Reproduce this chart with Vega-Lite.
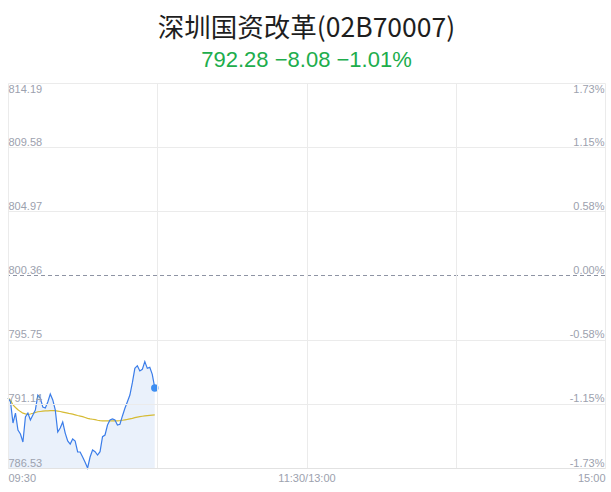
{
  "$schema": "https://vega.github.io/schema/vega-lite/v6.json",
  "description": "Intraday chart of 深圳国资改革 index, first hour of trading",
  "autosize": "none",
  "width": 597,
  "height": 385,
  "padding": {"left": 8, "top": 83, "right": 6, "bottom": 24},
  "background": "#ffffff",
  "config": {"view": {"stroke": null}},
  "title": {
    "text": "深圳国资改革(02B70007)",
    "subtitle": "792.28 −8.08 −1.01%",
    "anchor": "middle",
    "font": "Noto Sans CJK SC",
    "fontSize": 26.5,
    "fontWeight": "normal",
    "color": "#1e1e1e",
    "subtitleFont": "Liberation Sans",
    "subtitleFontSize": 22,
    "subtitleColor": "#20ad4c",
    "subtitlePadding": 8,
    "offset": 12
  },
  "data": {
    "values": [
      {"t": 0, "price": 791.56, "avg": 791.56},
      {"t": 1, "price": 791.29, "avg": 791.40},
      {"t": 2, "price": 789.76, "avg": 791.06},
      {"t": 3, "price": 790.48, "avg": 790.88},
      {"t": 4, "price": 789.26, "avg": 790.72},
      {"t": 5, "price": 788.97, "avg": 790.58},
      {"t": 6, "price": 788.40, "avg": 790.47},
      {"t": 7, "price": 790.19, "avg": 790.42},
      {"t": 8, "price": 790.48, "avg": 790.39},
      {"t": 9, "price": 789.98, "avg": 790.41},
      {"t": 10, "price": 790.34, "avg": 790.46},
      {"t": 11, "price": 790.70, "avg": 790.52},
      {"t": 12, "price": 791.77, "avg": 790.57},
      {"t": 13, "price": 791.56, "avg": 790.59},
      {"t": 14, "price": 790.91, "avg": 790.61},
      {"t": 15, "price": 790.84, "avg": 790.63},
      {"t": 16, "price": 791.27, "avg": 790.64},
      {"t": 17, "price": 791.85, "avg": 790.65},
      {"t": 18, "price": 791.42, "avg": 790.65},
      {"t": 19, "price": 790.70, "avg": 790.65},
      {"t": 20, "price": 789.12, "avg": 790.62},
      {"t": 21, "price": 789.40, "avg": 790.59},
      {"t": 22, "price": 789.83, "avg": 790.55},
      {"t": 23, "price": 789.04, "avg": 790.51},
      {"t": 24, "price": 788.47, "avg": 790.47},
      {"t": 25, "price": 788.25, "avg": 790.43},
      {"t": 26, "price": 788.61, "avg": 790.40},
      {"t": 27, "price": 788.47, "avg": 790.35},
      {"t": 28, "price": 787.68, "avg": 790.30},
      {"t": 29, "price": 787.68, "avg": 790.26},
      {"t": 30, "price": 787.32, "avg": 790.22},
      {"t": 31, "price": 786.95, "avg": 790.16},
      {"t": 32, "price": 786.53, "avg": 790.10},
      {"t": 33, "price": 787.32, "avg": 790.06},
      {"t": 34, "price": 787.82, "avg": 790.03},
      {"t": 35, "price": 787.70, "avg": 790.00},
      {"t": 36, "price": 787.46, "avg": 789.96},
      {"t": 37, "price": 787.70, "avg": 789.93},
      {"t": 38, "price": 788.78, "avg": 789.92},
      {"t": 39, "price": 788.90, "avg": 789.91},
      {"t": 40, "price": 789.62, "avg": 789.91},
      {"t": 41, "price": 789.98, "avg": 789.91},
      {"t": 42, "price": 790.05, "avg": 789.91},
      {"t": 43, "price": 789.98, "avg": 789.91},
      {"t": 44, "price": 789.62, "avg": 789.92},
      {"t": 45, "price": 789.67, "avg": 789.93},
      {"t": 46, "price": 790.27, "avg": 789.96},
      {"t": 47, "price": 790.82, "avg": 789.99},
      {"t": 48, "price": 791.29, "avg": 790.02},
      {"t": 49, "price": 791.77, "avg": 790.06},
      {"t": 50, "price": 792.66, "avg": 790.10},
      {"t": 51, "price": 793.69, "avg": 790.15},
      {"t": 52, "price": 793.88, "avg": 790.19},
      {"t": 53, "price": 793.50, "avg": 790.22},
      {"t": 54, "price": 793.62, "avg": 790.25},
      {"t": 55, "price": 794.17, "avg": 790.27},
      {"t": 56, "price": 793.69, "avg": 790.29},
      {"t": 57, "price": 793.76, "avg": 790.31},
      {"t": 58, "price": 793.26, "avg": 790.33},
      {"t": 59, "price": 792.28, "avg": 790.35}
    ]
  },
  "layer": [
    {
      "mark": {"type": "area", "color": "#e8effb", "opacity": 0.9},
      "encoding": {
        "x": {
          "field": "t",
          "type": "quantitative",
          "scale": {"domain": [0, 240], "nice": false, "zero": false},
          "axis": {
            "title": null,
            "zindex": 1,
            "values": [0, 60, 120, 180, 240],
            "labelExpr": "datum.value == 0 ? '09:30' : datum.value == 120 ? '11:30/13:00' : datum.value == 240 ? '15:00' : ''",
            "labelAlign": {
              "condition": [
                {"test": "datum.value == 0", "value": "left"},
                {"test": "datum.value == 240", "value": "right"}
              ],
              "value": "center"
            },
            "ticks": false,
            "tickSize": 0,
            "labelPadding": 4,
            "labelFont": "Liberation Sans",
            "labelFontSize": 11,
            "labelColor": "#9ca1ae",
            "gridColor": "#ebebeb",
            "domainColor": "#e2e2e2",
            "labelOverlap": false,
            "labelFlush": false
          }
        },
        "y": {
          "field": "price",
          "type": "quantitative",
          "scale": {"domain": [786.53, 814.19], "nice": false, "zero": false},
          "axis": {
            "title": null,
            "zindex": 1,
            "orient": "left",
            "values": [786.53, 791.14, 795.75, 800.36, 804.97, 809.58, 814.19],
            "format": ".2f",
            "ticks": false,
            "tickSize": 0,
            "domain": false,
            "labelAlign": "left",
            "labelPadding": 0,
            "labelBaseline": {
              "condition": {"test": "datum.value > 814", "value": "top"},
              "value": "bottom"
            },
            "labelFont": "Liberation Sans",
            "labelFontSize": 11,
            "labelColor": "#9ca1ae",
            "labelOverlap": false,
            "gridColor": {
              "condition": {"test": "abs(datum.value - 800.36) < 0.001", "value": "transparent"},
              "value": "#ebebeb"
            }
          }
        },
        "y2": {"datum": 786.53}
      }
    },
    {
      "mark": {"type": "rule", "color": "#8e94a4", "strokeDash": [4, 3], "strokeWidth": 1},
      "encoding": {
        "y": {"datum": 800.36, "type": "quantitative", "axis": null}
      }
    },
    {
      "mark": {"type": "line", "color": "#d6bb34", "strokeWidth": 1.2},
      "encoding": {
        "x": {"field": "t", "type": "quantitative"},
        "y": {
          "field": "avg",
          "type": "quantitative",
          "axis": {
            "title": null,
            "zindex": 1,
            "orient": "right",
            "values": [786.53, 791.14, 795.75, 800.36, 804.97, 809.58, 814.19],
            "labelExpr": "replace(format((datum.value - 800.36) / 800.36, '.2%'), '−', '-')",
            "ticks": false,
            "tickSize": 0,
            "domain": false,
            "grid": false,
            "labelAlign": "right",
            "labelPadding": -1,
            "labelBaseline": {
              "condition": {"test": "datum.value > 814", "value": "top"},
              "value": "bottom"
            },
            "labelFont": "Liberation Sans",
            "labelFontSize": 11,
            "labelColor": "#9ca1ae",
            "labelOverlap": false
          }
        }
      }
    },
    {
      "mark": {"type": "line", "color": "#3b7de9", "strokeWidth": 1.2},
      "encoding": {
        "x": {"field": "t", "type": "quantitative"},
        "y": {"field": "price", "type": "quantitative", "axis": null}
      }
    },
    {
      "transform": [{"filter": "datum.t == 59"}],
      "mark": {"type": "circle", "color": "#3d8ef2", "size": 55, "opacity": 1},
      "encoding": {
        "x": {"field": "t", "type": "quantitative"},
        "y": {"field": "price", "type": "quantitative", "axis": null}
      }
    }
  ],
  "resolve": {"axis": {"y": "independent"}}
}
